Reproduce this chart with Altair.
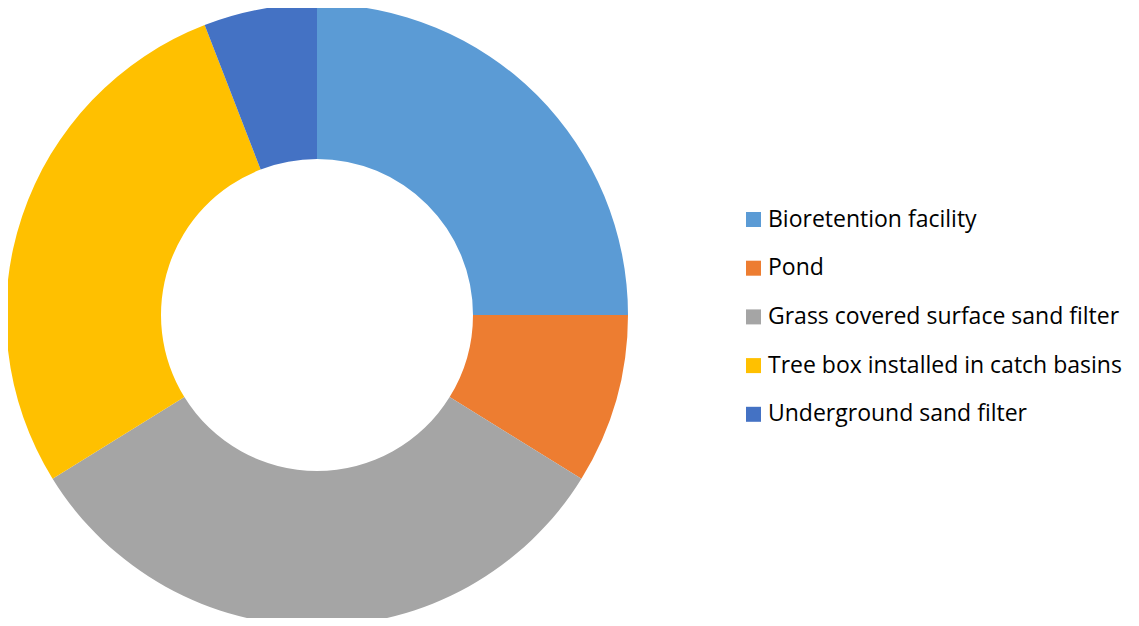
import altair as alt
import pandas as pd

categories = ["Bioretention facility", "Pond", "Grass covered surface sand filter",
              "Tree box installed in catch basins", "Underground sand filter"]
counts = [17, 6, 22, 19, 4]
colors = ["#5B9BD5", "#ED7D31", "#A5A5A5", "#FFC000", "#4472C4"]

df = pd.DataFrame({"category": categories, "value": counts, "idx": list(range(len(categories)))})

chart = alt.Chart(df).mark_arc(innerRadius=156, outerRadius=311, stroke="white", strokeWidth=0).encode(
    theta=alt.Theta("value:Q", stack=True),
    order=alt.Order("idx:Q", sort="ascending"),
    x=alt.value(309),
    y=alt.value(307),
    color=alt.Color(
        "category:N",
        scale=alt.Scale(domain=categories, range=colors),
        legend=alt.Legend(
            title=None,
            orient="none",
            legendX=734,
            legendY=200,
            symbolType="square",
            symbolSize=225,
            symbolStrokeWidth=0,
            symbolOpacity=1,
            labelFontSize=23,
            labelFont="Open Sans",
            labelColor="#000000",
            labelOffset=3,
            rowPadding=24.7,
            labelLimit=500,
        ),
    ),
).properties(
    width=1123, height=610, autosize=alt.AutoSizeParams(type="none"), padding=0
).configure_view(stroke=None)

chart.save("out.html", embed_options={"renderer": "svg", "actions": False})
